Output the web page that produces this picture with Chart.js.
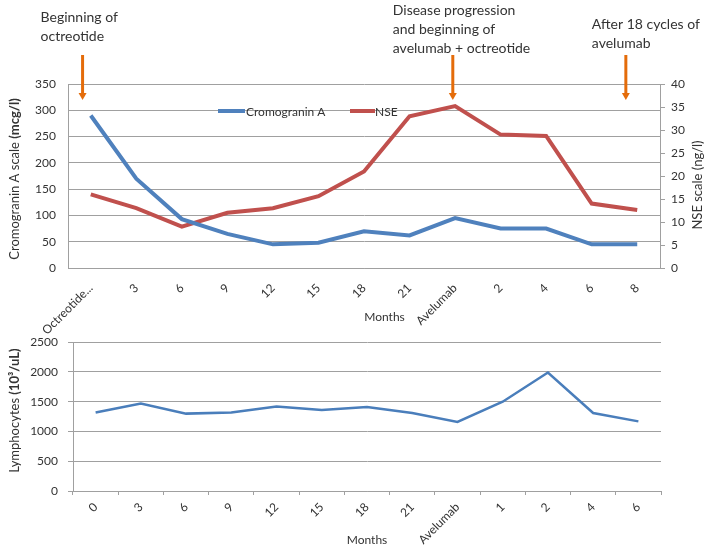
<!DOCTYPE html>
<html><head><meta charset="utf-8">
<script src="https://cdn.jsdelivr.net/npm/chart.js@4"></script>
<style>
html,body{margin:0;padding:0;background:#fff;}
#wrap{position:relative;width:708px;height:549px;overflow:hidden;}
#c1{position:absolute;left:0;top:0;}
#c2{position:absolute;left:0;top:325px;}
</style></head><body>
<div id="wrap">
<canvas id="c1" width="708" height="345"></canvas>
<canvas id="c2" width="708" height="224"></canvas>
</div>
<script>
// ---- data ----
const topCategories = ['Octreotide...','3','6','9','12','15','18','21','Avelumab','2','4','6','8'];
const cromograninA = [290,170,93,65,45,48,70,62,95,75,75,45,45];
const nse = [16,13,9,12,13,15.6,21,33,35.2,29,28.7,14,12.6];
const bottomCategories = ['0','3','6','9','12','15','18','21','Avelumab','1','2','4','6'];
const lymphocytes = [1320,1470,1300,1320,1420,1360,1410,1310,1160,1500,1990,1310,1170];
const noteTexts = [['Beginning of','octreotide'],['Disease progression','and beginning of','avelumab + octreotide'],['After 18 cycles of','avelumab']];
const noteAt = [0,8,12];

// ---- styles ----
const FONT = 'Lato, "Open Sans", sans-serif';
const TXT = '#333333';
const GRID = '#a0a0a0';
const BLUE = '#4F81BD';
const RED = '#C0504D';
const ORANGE = '#E46C0A';
Chart.defaults.font.family = FONT;
Chart.defaults.color = TXT;

function drawMixed(ctx, parts, x, y, rot){
  ctx.save(); ctx.translate(x,y); ctx.rotate(rot);
  let total=0;
  parts.forEach(p=>{ctx.font=p.font; p.w=ctx.measureText(p.text).width; total+=p.w;});
  let cx=-total/2; ctx.textBaseline='middle'; ctx.textAlign='left'; ctx.fillStyle=TXT;
  parts.forEach(p=>{ctx.font=p.font; ctx.fillText(p.text,cx,0); cx+=p.w;});
  ctx.restore();
}

// note layout (positions only)
const noteLayout = [
  {shift:-0.18, dx:-42, y0:17},
  {shift:-0.05, dx:-60, y0:10},
  {shift:-0.25, dx:-34, y0:24}
];

const topDecor = {
  id:'topDecor',
  afterDraw(chart){
    const ctx = chart.ctx, xs = chart.scales.x, ca = chart.chartArea;
    noteAt.forEach((idx,i)=>{
      const L = noteLayout[i];
      const x = xs.getPixelForValue(idx + L.shift);
      ctx.save();
      ctx.strokeStyle = ORANGE; ctx.fillStyle = ORANGE; ctx.lineWidth = 3;
      ctx.beginPath(); ctx.moveTo(x,55); ctx.lineTo(x,94); ctx.stroke();
      ctx.beginPath(); ctx.moveTo(x-4,93); ctx.lineTo(x+4,93); ctx.lineTo(x,100); ctx.closePath(); ctx.fill();
      ctx.fillStyle = TXT; ctx.font = '14px '+FONT; ctx.textAlign='left'; ctx.textBaseline='middle';
      noteTexts[i].forEach((t,k)=>ctx.fillText(t, x+L.dx, L.y0 + k*19));
      ctx.restore();
    });
    // legend
    ctx.save();
    ctx.lineWidth = 4; ctx.lineCap='butt';
    const ly = 111;
    ctx.strokeStyle = BLUE; ctx.beginPath(); ctx.moveTo(218,ly); ctx.lineTo(245,ly); ctx.stroke();
    ctx.strokeStyle = RED; ctx.beginPath(); ctx.moveTo(350,ly); ctx.lineTo(375,ly); ctx.stroke();
    ctx.fillStyle = TXT; ctx.font='12px '+FONT; ctx.textBaseline='middle'; ctx.textAlign='left';
    ctx.fillText(chart.data.datasets[0].label, 246, ly+1);
    ctx.fillText(chart.data.datasets[1].label, 375, ly+1);
    ctx.restore();
    // axis titles
    const cy = (ca.top+ca.bottom)/2;
    drawMixed(ctx,[{text:'Cromogranin A scale ',font:'13px '+FONT},{text:'(mcg/l)',font:'bold 13px '+FONT}], 15, cy+3, -Math.PI/2);
    drawMixed(ctx,[{text:'NSE scale (ng/l)',font:'13px '+FONT}], 698, cy+9, -Math.PI/2);
    drawMixed(ctx,[{text:'Months',font:'12px '+FONT}], xs.getPixelForValue(6.45), 317, 0);
  }
};

const plainNum = v => String(v);

new Chart(document.getElementById('c1'), {
  type:'line',
  data:{labels:topCategories, datasets:[
    {label:'Cromogranin A', data:cromograninA, borderColor:BLUE, backgroundColor:BLUE, borderWidth:4, pointRadius:0, yAxisID:'y', tension:0},
    {label:'NSE', data:nse, borderColor:RED, backgroundColor:RED, borderWidth:4, pointRadius:0, yAxisID:'y1', tension:0}
  ]},
  options:{
    responsive:false, animation:false, devicePixelRatio:1,
    layout:{padding:{top:84,left:0,right:0,bottom:0}},
    plugins:{legend:{display:false}, tooltip:{enabled:false}},
    scales:{
      x:{type:'category', offset:true,
        grid:{display:false},
        border:{display:true,color:GRID,width:1},
        ticks:{maxRotation:45,minRotation:45,autoSkip:false,padding:5,font:{size:12},color:TXT},
        afterFit(s){s.height=77;}},
      y:{position:'left',min:0,max:350,
        ticks:{stepSize:50,padding:12,font:{size:12},color:TXT,callback:plainNum},
        grid:{color:GRID,drawTicks:false},
        border:{color:GRID},
        afterFit(s){s.width=68;}},
      y1:{position:'right',min:0,max:40,
        ticks:{stepSize:5,padding:6,font:{size:12},color:TXT,callback:plainNum},
        grid:{drawOnChartArea:false,drawTicks:true,tickLength:5,color:GRID},
        border:{color:GRID},
        afterFit(s){s.width=48;}}
    }
  },
  plugins:[topDecor]
});

const bottomDecor = {
  id:'bottomDecor',
  afterDraw(chart){
    const ctx = chart.ctx, ca = chart.chartArea;
    const cy = (ca.top+ca.bottom)/2;
    drawMixed(ctx,[{text:'Lymphocytes ',font:'13px '+FONT},{text:'(10\u00B3/uL)',font:'bold 13px '+FONT}], 15, cy-6, -Math.PI/2);
    drawMixed(ctx,[{text:'Months',font:'12px '+FONT}], (ca.left+ca.right)/2, 215, 0);
  }
};

new Chart(document.getElementById('c2'), {
  type:'line',
  data:{labels:bottomCategories, datasets:[
    {label:'Lymphocytes', data:lymphocytes, borderColor:'#4A7EBB', borderWidth:2.5, pointRadius:0, tension:0}
  ]},
  options:{
    responsive:false, animation:false, devicePixelRatio:1,
    layout:{padding:{top:13,left:0,right:47,bottom:0}},
    plugins:{legend:{display:false}, tooltip:{enabled:false}},
    scales:{
      x:{type:'category', offset:true,
        grid:{display:true,drawOnChartArea:false,offset:true,tickLength:4,color:GRID},
        border:{display:true,color:GRID},
        ticks:{maxRotation:45,minRotation:45,autoSkip:false,padding:5,font:{size:12},color:TXT},
        afterFit(s){s.height=58;}},
      y:{min:0,max:2500,
        ticks:{stepSize:500,padding:10,font:{size:12},color:TXT,callback:plainNum},
        grid:{color:GRID,tickLength:5},
        border:{color:GRID},
        afterFit(s){s.width=73;}}
    }
  },
  plugins:[bottomDecor]
});
</script>
</body></html>
